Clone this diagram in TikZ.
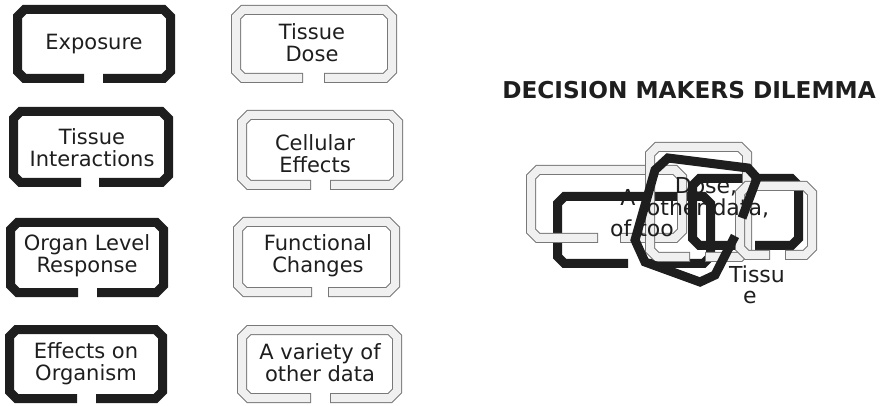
\documentclass[tikz,border=0pt]{standalone}
\usepackage{fontspec}
\setmainfont{DejaVu Sans}
\usepackage{tikz}

\definecolor{linkgray}{RGB}{120,120,120}
\definecolor{linkfill}{RGB}{240,240,240}
\definecolor{inkgray}{RGB}{30,30,30}

% one chain link: style, half ring width, outer left/top/right/bottom, gap ends
\newcommand{\chainlink}[8]{%
	\draw[#1] (#8,#6-#2) -- (#5-#2-7,#6-#2) -- (#5-#2,#6-#2-7) -- (#5-#2,#4+#2+7)
		-- (#5-#2-7,#4+#2) -- (#3+#2+7,#4+#2) -- (#3+#2,#4+#2+7) -- (#3+#2,#6-#2-7)
		-- (#3+#2+7,#6-#2) -- (#7,#6-#2);
}
\newcommand{\graylink}[6]{%
	\chainlink{grayedge}{5}{#1}{#2}{#3}{#4}{#5}{#6}
	\chainlink{grayface}{5}{#1}{#2}{#3}{#4}{#5}{#6}
}

\begin{document}
\begin{tikzpicture}[x=0.5pt, y=-0.5pt,
	blacklink/.style={draw=inkgray, line width=4.5pt},
	grayedge/.style={draw=linkgray, line width=5pt},
	grayface/.style={draw=linkfill, line width=4pt, shorten <=0.5pt, shorten >=0.5pt},
	linktext/.style={text=inkgray, align=center, font=\fontsize{10.5}{11}\selectfont, inner sep=0pt},
	tangletext/.style={linktext, font=\fontsize{11}{11}\selectfont}]
	\useasboundingbox (0,0) rectangle (883,406);
\foreach \l/\t/\r/\b/\gl/\gr in {13/5/175/83/84/103, 9/107/173/187/81/99, 6/218/168/297/78/97, 5/325/167/403/77/96}
	{\chainlink{blacklink}{4.5}{\l}{\t}{\r}{\b}{\gl}{\gr}}
\foreach \l/\t/\r/\b/\gl/\gr in {231/5/397/83/303/324, 237/110/403/190/311/330, 233/217/400/297/312/328, 237/325/402/403/311/330}
	{\graylink{\l}{\t}{\r}{\b}{\gl}{\gr}}
	\node[linktext] (exposure) at (94,44) {Exposure};
	\node[linktext] (tissueint) at (92,148) {Tissue\\Interactions};
	\node[linktext] (organ) at (87,256) {Organ Level\\Response};
	\node[linktext] (effects) at (86,364) {Effects on\\Organism};
	\node[linktext] (tissuedose) at (312,43) {Tissue\\Dose};
	\node[linktext] (cellular) at (315,154) {Cellular\\Effects};
	\node[linktext] (functional) at (318,256) {Functional\\Changes};
	\node[linktext] (variety) at (320,363) {A variety of\\other data};
	% title
	\node[text=inkgray, font=\fontsize{11.6}{12}\bfseries] (dilemma) at (689,90) {DECISION MAKERS DILEMMA};
	% the tangle
	\chainlink{blacklink}{4.5}{553}{192}{715}{268}{628}{650}
	\chainlink{blacklink}{4.5}{688}{174}{803}{250}{735}{755}
	\graylink{526}{165}{687}{243}{598}{620}
	\graylink{645}{142}{752}{262}{690}{705}
	\graylink{735}{181}{817}{260}{770}{785}
	\node[tangletext] (tangledose) at (706,187) {Dose,};
	\node[tangletext] (tanglea) at (628,197) {A};
	\node[tangletext] (tangledata) at (708,208) {other data,};
	\node[tangletext] (tangleof) at (642,228) {of too};
	\node[tangletext] (tangletissu) at (757,274) {Tissu};
	\node[tangletext] (tanglee) at (750,297) {e};
	\draw[blacklink] (742,218) -- (757,178) -- (748,168) -- (668,158) -- (655,170) -- (635,240)
		-- (645,262) -- (700,282) -- (715,275) -- (735,236);
\end{tikzpicture}
\end{document}
